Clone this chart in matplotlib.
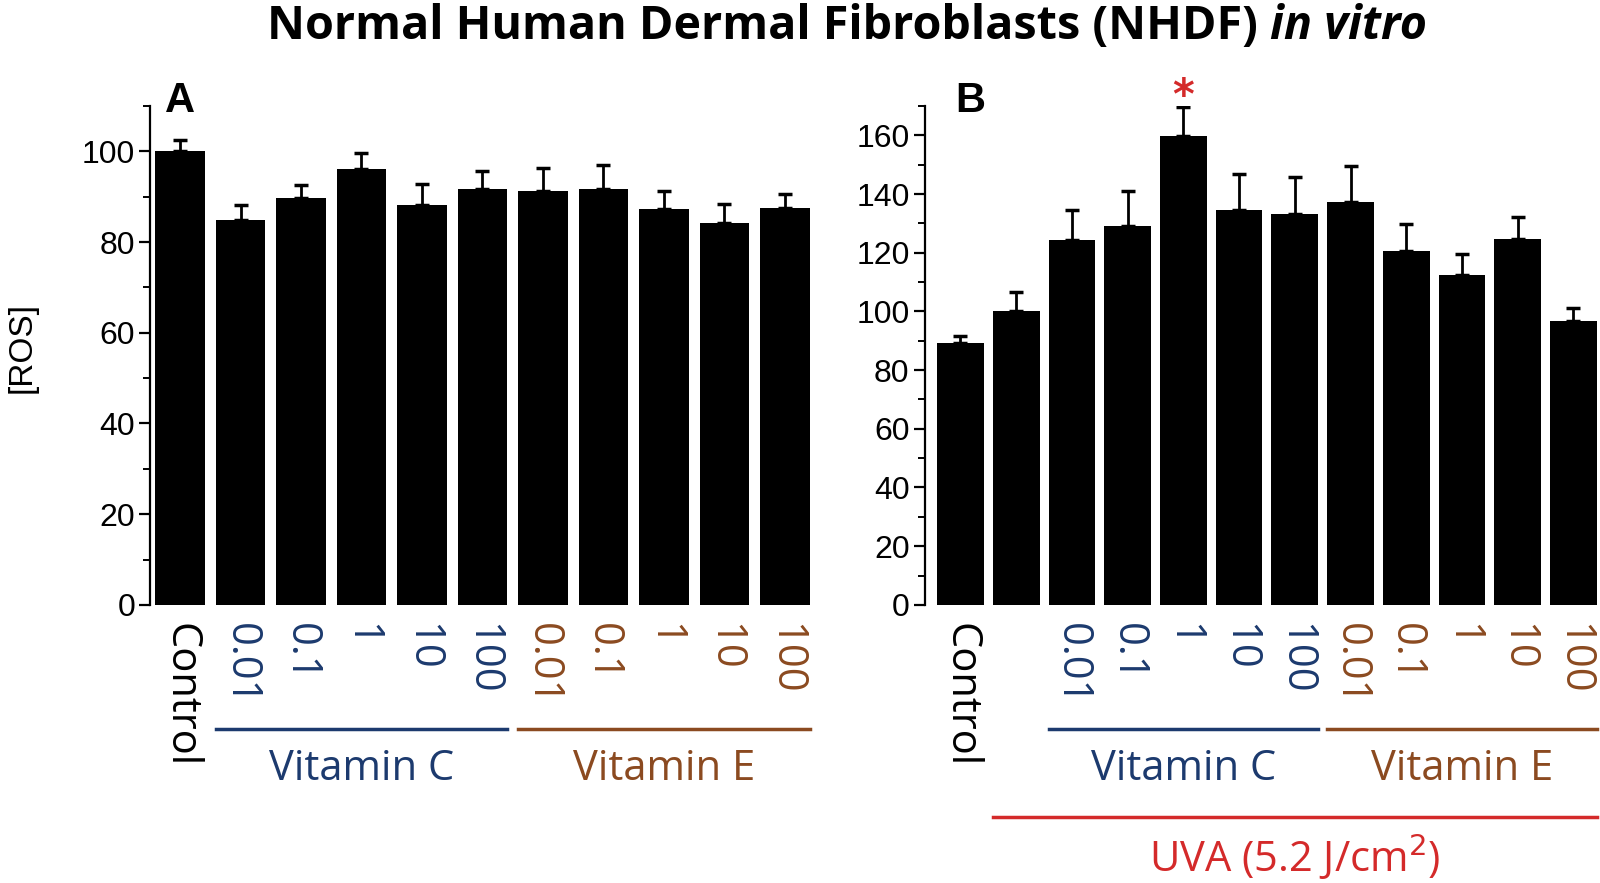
import numpy as np
import matplotlib
matplotlib.use("Agg")
import matplotlib.pyplot as plt
import matplotlib.transforms as mtransforms
from matplotlib.ticker import MultipleLocator

# ---- data ----
labels_a = ['Control', '0.01', '0.1', '1', '10', '100', '0.01', '0.1', '1', '10', '100']
ros_a = [100.0, 84.9, 89.6, 96.1, 88.1, 91.6, 91.2, 91.7, 87.3, 84.3, 87.4]
err_a = [2.6, 3.2, 2.9, 3.5, 4.8, 4.1, 5.1, 5.3, 4.0, 4.1, 3.2]

labels_b = ['Control', '', '0.01', '0.1', '1', '10', '100', '0.01', '0.1', '1', '10', '100']
ros_b = [89.1, 100.1, 124.2, 129.2, 159.8, 134.4, 133.1, 137.4, 120.7, 112.3, 124.6, 96.6]
err_b = [2.4, 6.4, 10.5, 11.8, 10.0, 12.5, 12.8, 12.2, 9.2, 7.2, 7.4, 4.7]

NAVY = '#1c3a6e'
BROWN = '#8b4a20'
RED = '#d42a2a'
TXT = 'Open Sans'
NUM = 'Liberation Sans'

fig = plt.figure(figsize=(16, 8.83), dpi=100)
axA = fig.add_axes([0.094, 0.315, 0.412, 0.565])
axB = fig.add_axes([0.578, 0.315, 0.420, 0.565])


def draw_panel(ax, labels, vals, errs, ymax, width, gap, first_treat):
    x = np.arange(len(vals))
    ax.bar(x, vals, width=width, color='black', zorder=2)
    ax.errorbar(x, vals, yerr=[np.zeros(len(errs)), errs], fmt='none',
                ecolor='black', elinewidth=2, capsize=5, capthick=2.5, zorder=1)
    ax.set_ylim(0, ymax)
    ax.set_xlim(-width / 2 - gap, len(vals) - 1 + width / 2)
    for s in ['top', 'right', 'bottom']:
        ax.spines[s].set_visible(False)
    ax.spines['left'].set_linewidth(1.6)
    ax.yaxis.set_major_locator(MultipleLocator(20))
    ax.yaxis.set_minor_locator(MultipleLocator(10))
    ax.tick_params(axis='y', which='major', length=8, width=1.6, labelsize=23, pad=3)
    ax.tick_params(axis='y', which='minor', length=5, width=1.4)
    for t in ax.get_yticklabels():
        t.set_fontfamily(NUM)
    ax.set_xticks(x)
    ax.set_xticklabels(labels, rotation=270, fontsize=30, fontfamily=TXT)
    ax.tick_params(axis='x', length=0, pad=13)
    for i, t in enumerate(ax.get_xticklabels()):
        t.set_va('top')
        if i == 0:
            t.set_color('black')
        elif i < first_treat + 5:
            t.set_color(NAVY)
        else:
            t.set_color(BROWN)
    tr = mtransforms.blended_transform_factory(ax.transData, ax.transAxes)
    h = width / 2
    for start, name, col in [(first_treat, 'Vitamin C', NAVY), (first_treat + 5, 'Vitamin E', BROWN)]:
        ax.plot([start - h, start + 4 + h], [-0.248, -0.248], color=col, lw=2.5,
                transform=tr, clip_on=False)
        ax.text(start + 2, -0.33, name, color=col, fontsize=30, fontfamily=TXT,
                ha='center', va='center', transform=tr)
    return tr


draw_panel(axA, labels_a, ros_a, err_a, 110, 0.82, 0.08, 1)
trB = draw_panel(axB, labels_b, ros_b, err_b, 170, 0.84, 0.22, 2)

# UVA bracket under panel B
axB.plot([1 - 0.42, 11 + 0.42], [-0.425, -0.425], color=RED, lw=2.5, transform=trB, clip_on=False)
axB.text(6, -0.505, 'UVA (5.2 J/cm$^2$)', color=RED, fontsize=30, fontfamily=TXT,
         ha='center', va='center', transform=trB)

# significance star
axB.text(4, 166, '*', color=RED, fontsize=30, fontweight='bold', ha='center', va='bottom',
         clip_on=False)

# panel letters
axA.text(0.022, 1.01, 'A', transform=axA.transAxes, fontsize=30, fontweight='bold',
         fontfamily=NUM, ha='left', va='center')
axB.text(0.045, 1.01, 'B', transform=axB.transAxes, fontsize=30, fontweight='bold',
         fontfamily=NUM, ha='left', va='center')

# y label
fig.text(0.014, 0.607, '[ROS]', rotation=90, fontsize=24, fontfamily=NUM, ha='center', va='center')

# title, bold + bold italic part
t1 = fig.text(0.167, 0.97, 'Normal Human Dermal Fibroblasts (NHDF) ', fontsize=33.6,
              fontweight='bold', fontfamily=TXT, ha='left', va='center')
plt.annotate('in vitro', xy=(1, 0), xycoords=t1, xytext=(0, 0), textcoords='offset points',
             fontsize=33.6, fontweight='bold', fontstyle='italic', fontfamily=TXT,
             ha='left', va='bottom')

fig.savefig('out.png', dpi=100)
